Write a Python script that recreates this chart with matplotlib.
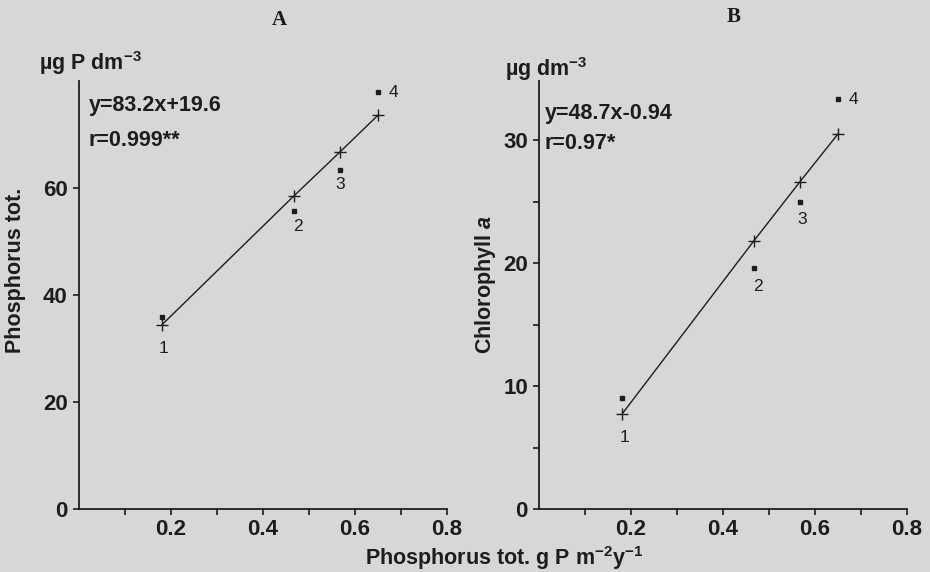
import matplotlib.pyplot as plt
import numpy as np

# P loading (x) for the four stations
p_load = [0.18, 0.467, 0.567, 0.65]
station_labels = ['1', '2', '3', '4']

# panel A: total phosphorus, measured and fitted
tp_obs = [35.9, 55.7, 63.4, 77.9]
tp_fit = [34.4, 58.5, 66.7, 73.6]

# panel B: chlorophyll a, measured and fitted
chl_obs = [9.0, 19.6, 25.0, 33.3]
chl_fit = [7.7, 21.8, 26.6, 30.5]

bg = '#d7d7d9'
ink = '#1e1c1c'

plt.rcParams['font.family'] = ['Liberation Sans', 'DejaVu Sans']
plt.rcParams['text.color'] = ink
plt.rcParams['axes.edgecolor'] = ink
plt.rcParams['xtick.color'] = ink
plt.rcParams['ytick.color'] = ink
plt.rcParams['mathtext.fontset'] = 'custom'
plt.rcParams['mathtext.rm'] = 'Liberation Sans:bold'
plt.rcParams['mathtext.it'] = 'Liberation Sans:bold:italic'
plt.rcParams['mathtext.bf'] = 'Liberation Sans:bold'

fig = plt.figure(figsize=(9.3, 5.72), dpi=100)
fig.patch.set_facecolor(bg)

axA = fig.add_axes([0.0849, 0.1101, 0.3957, 0.7483])
axB = fig.add_axes([0.5796, 0.1101, 0.3957, 0.7483])


def style_axis(ax, ymax, yticks, ylabels):
    ax.set_facecolor(bg)
    ax.set_xlim(0, 0.8)
    ax.set_ylim(0, ymax)
    for s in ['top', 'right']:
        ax.spines[s].set_visible(False)
    for s in ['left', 'bottom']:
        ax.spines[s].set_linewidth(1.3)
    ax.set_xticks(np.arange(0.1, 0.81, 0.1))
    ax.set_xticklabels(['', '0.2', '', '0.4', '', '0.6', '', '0.8'])
    ax.set_yticks(yticks)
    ax.set_yticklabels(ylabels)
    ax.tick_params(axis='both', direction='out', length=4, width=1.2,
                   labelsize=16, pad=4)
    ax.tick_params(axis='x', pad=3)
    for lab in ax.get_xticklabels() + ax.get_yticklabels():
        lab.set_fontweight('bold')


def draw_points(ax, fit, obs, lab_offsets):
    ax.plot(p_load, fit, color=ink, lw=1.0, marker='+', ms=9, mew=1.0)
    ax.plot(p_load, obs, ls='none', marker='s', ms=2.2, color=ink)
    for x, f, o, name, (dx, dy) in zip(p_load, fit, obs, station_labels, lab_offsets):
        ref = o if name == '4' else f
        ax.annotate(name, (x, ref), xytext=(dx, dy), textcoords='offset points',
                    ha='center', va='center', fontsize=12.5, color=ink)


# Panel A
style_axis(axA, 80, [0, 20, 40, 60], ['0', '20', '40', '60'])
draw_points(axA, tp_fit, tp_obs, [(1, -17), (3, -22), (0, -23), (11, 0)])
axA.text(0.027, 0.942, 'y=83.2x+19.6', transform=axA.transAxes,
         fontsize=15.5, fontweight='bold', va='center')
axA.text(0.027, 0.862, 'r=0.999**', transform=axA.transAxes,
         fontsize=15.5, fontweight='bold', va='center')
fig.text(0.042, 0.877, 'µg P dm$^{-3}$', fontsize=15.5, fontweight='bold',
         va='baseline')
fig.text(0.017, 0.528, 'Phosphorus tot.', rotation=90, fontsize=15.5,
         fontweight='bold', ha='center', va='center')
fig.text(0.300, 0.965, 'A', family='Liberation Serif', fontsize=15,
         fontweight='bold', ha='center', va='center')

# Panel B
style_axis(axB, 34.8, [0, 5, 10, 15, 20, 25, 30], ['0', '', '10', '', '20', '', '30'])
draw_points(axB, chl_fit, chl_obs, [(2, -17), (3, -33), (2, -27), (11, 0)])
axB.text(0.016, 0.925, 'y=48.7x-0.94', transform=axB.transAxes,
         fontsize=15.5, fontweight='bold', va='center')
axB.text(0.016, 0.855, 'r=0.97*', transform=axB.transAxes,
         fontsize=15.5, fontweight='bold', va='center')
fig.text(0.543, 0.867, 'µg dm$^{-3}$', fontsize=15.5, fontweight='bold',
         va='baseline')
fig.text(0.522, 0.502, 'Chlorophyll $\\mathit{a}$', rotation=90, fontsize=15.5,
         fontweight='bold', ha='center', va='center')
fig.text(0.789, 0.970, 'B', family='Liberation Serif', fontsize=15,
         fontweight='bold', ha='center', va='center')

fig.text(0.542, 0.024, 'Phosphorus tot. g P m$^{-2}$y$^{-1}$', fontsize=15.5,
         fontweight='bold', ha='center', va='center')

plt.savefig('out.png', dpi=100, facecolor=bg)
plt.close()
